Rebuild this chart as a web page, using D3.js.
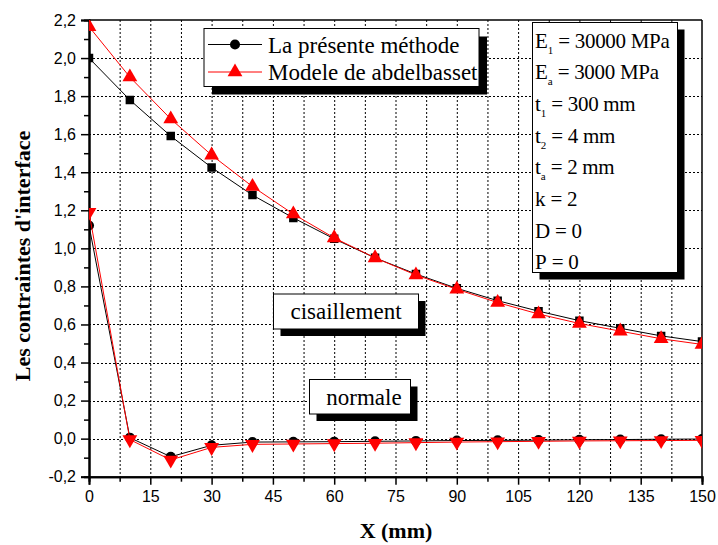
<!DOCTYPE html>
<html>
<head>
<meta charset="utf-8">
<script src="https://cdn.jsdelivr.net/npm/d3@7"></script>
<style>
  body { margin: 0; background: #fff; }
  svg { display: block; }
  .tick text { font-family: "Liberation Sans", Arial, sans-serif; font-size: 16px; fill: #000; }
  .serif { font-family: "Liberation Serif", "Times New Roman", serif; }
</style>
</head>
<body>
<div id="chart"></div>
<script>
// ---- data ----
const xs = [0, 10, 20, 30, 40, 50, 60, 70, 80, 90, 100, 110, 120, 130, 140, 150];
const shearPresent = [2.00, 1.78, 1.59, 1.425, 1.28, 1.16, 1.05, 0.95, 0.865, 0.79, 0.725, 0.67, 0.62, 0.58, 0.54, 0.51];
const shearAbdel   = [2.165, 1.90, 1.68, 1.49, 1.325, 1.18, 1.055, 0.95, 0.86, 0.785, 0.715, 0.655, 0.605, 0.565, 0.525, 0.495];
const normalPresent = [1.12, 0.005, -0.095, -0.035, -0.018, -0.017, -0.016, -0.014, -0.012, -0.010, -0.009, -0.008, -0.006, -0.005, -0.003, -0.002];
const normalAbdel   = [1.19, -0.005, -0.112, -0.046, -0.03, -0.028, -0.026, -0.024, -0.021, -0.018, -0.016, -0.014, -0.012, -0.011, -0.010, -0.009];
const xTicks = [0, 15, 30, 45, 60, 75, 90, 105, 120, 135, 150];
const yTicks = [-0.2, 0, 0.2, 0.4, 0.6, 0.8, 1.0, 1.2, 1.4, 1.6, 1.8, 2.0, 2.2];
const legendNames = ["La présente méthode", "Modele de abdelbasset"];
const params = [["E", "1", " = 30000 MPa"], ["E", "a", " = 3000 MPa"], ["t", "1", " = 300 mm"],
                ["t", "2", " = 4 mm"], ["t", "a", " = 2 mm"], ["k", "", " = 2"], ["D", "", " = 0"], ["P", "", " = 0"]];
const curveLabels = ["cisaillement", "normale"];

const W = 718, H = 545;
const svg = d3.select("#chart").append("svg").attr("width", W).attr("height", H);

const x = d3.scaleLinear().domain([0, 150]).range([89, 702]);
const y = d3.scaleLinear().domain([-0.2, 2.2]).range([476.7, 20]);
const [x0, x1] = x.range(), [y0, y1] = y.range();

svg.append("clipPath").attr("id", "plotclip")
  .append("rect").attr("x", x0).attr("y", y1).attr("width", x1 - x0).attr("height", y0 - y1);

// grid
const grid = svg.append("g").attr("stroke", "#000").attr("stroke-width", 1).attr("stroke-dasharray", "2,2");
grid.selectAll(".gv").data(d3.range(7.5, 150, 7.5)).join("line")
  .attr("x1", d => x(d) + 0.5).attr("x2", d => x(d) + 0.5).attr("y1", y1).attr("y2", y0);
grid.selectAll(".gh").data(yTicks.filter(d => d > -0.2 && d < 2.2)).join("line")
  .attr("y1", d => Math.round(y(d)) + 0.5).attr("y2", d => Math.round(y(d)) + 0.5).attr("x1", x0).attr("x2", x1);

// frame top/right
svg.append("line").attr("x1", x0).attr("x2", x1).attr("y1", y1).attr("y2", y1).attr("stroke", "#000").attr("stroke-width", 1.5);
svg.append("line").attr("x1", x1).attr("x2", x1).attr("y1", y1).attr("y2", y0).attr("stroke", "#000").attr("stroke-width", 1.5);

// axes
const comma = d => d3.format(".1f")(d).replace(".", ",").replace("−", "-");
svg.append("g").attr("transform", `translate(0,${y0})`)
  .call(d3.axisBottom(x).tickValues(xTicks).tickSize(8).tickPadding(6).tickFormat(d3.format("d")));
svg.append("g").attr("transform", `translate(0,${y0})`)
  .call(d3.axisBottom(x).tickValues(d3.range(7.5, 150, 15)).tickSize(5).tickFormat(""));
svg.append("g").attr("transform", `translate(${x0},0)`)
  .call(d3.axisLeft(y).tickValues(yTicks).tickSize(8).tickPadding(5).tickFormat(comma));
svg.append("g").attr("transform", `translate(${x0},0)`)
  .call(d3.axisLeft(y).tickValues(d3.range(-0.1, 2.2, 0.2)).tickSize(5).tickFormat(""));
svg.selectAll(".domain").attr("stroke-width", 2);
svg.selectAll(".tick line").attr("stroke-width", 1.5);

// series
const plot = svg.append("g").attr("clip-path", "url(#plotclip)");
const line = d3.line().x((d, i) => x(xs[i])).y(d => y(d));
const tri = d3.symbol().type(d3.symbolTriangle).size(95);

function series(vals, color, marker) {
  plot.append("path").datum(vals).attr("d", line).attr("fill", "none").attr("stroke", color).attr("stroke-width", 1);
  plot.selectAll(null).data(vals).join("path")
    .attr("transform", (d, i) => `translate(${x(xs[i])},${y(d)})` + (marker === "down" ? " rotate(180)" : ""))
    .attr("d", marker === "square" ? d3.symbol().type(d3.symbolSquare).size(72)()
              : marker === "circle" ? d3.symbol().type(d3.symbolCircle).size(80)()
              : tri())
    .attr("fill", color);
}
series(shearPresent, "#000", "square");
series(normalPresent, "#000", "circle");
series(shearAbdel, "#ff0000", "up");
series(normalAbdel, "#ff0000", "down");

// shadowed box helper
function shadowBox(bx, by, bw, bh, off) {
  svg.append("rect").attr("x", bx + off).attr("y", by + off).attr("width", bw).attr("height", bh).attr("fill", "#000");
  svg.append("rect").attr("x", bx).attr("y", by).attr("width", bw).attr("height", bh)
    .attr("fill", "#fff").attr("stroke", "#000").attr("stroke-width", 1);
}

// legend
shadowBox(204, 28.5, 275, 58, 8);
const lg = svg.append("g");
legendNames.forEach((name, i) => {
  const ly = 44.5 + i * 27.5;
  lg.append("line").attr("x1", 208).attr("x2", 262).attr("y1", ly).attr("y2", ly)
    .attr("stroke", i ? "#ff0000" : "#000").attr("stroke-width", 1);
  lg.append("path").attr("transform", `translate(235,${ly})`)
    .attr("d", i ? tri() : d3.symbol().type(d3.symbolCircle).size(80)())
    .attr("fill", i ? "#ff0000" : "#000");
  lg.append("text").attr("class", "serif").attr("x", 268).attr("y", ly + 8)
    .attr("font-size", 23).text(name);
});

// parameters box
shadowBox(532.5, 22.5, 145, 250, 7);
params.forEach((p, i) => {
  const t = svg.append("text").attr("class", "serif").attr("x", 535).attr("y", 47.5 + i * 31.7)
    .attr("font-size", 21).attr("textLength", null);
  t.append("tspan").text(p[0]);
  if (p[1]) t.append("tspan").attr("font-size", 11).attr("dy", 6).text(p[1]);
  t.append("tspan").attr("dy", p[1] ? -6 : 0).attr("letter-spacing", -0.3).text(p[2]);
});

// curve labels
shadowBox(273.5, 294, 145, 35, 7);
svg.append("text").attr("class", "serif").attr("x", 346).attr("y", 318.5).attr("text-anchor", "middle")
  .attr("font-size", 23).text(curveLabels[0]);
shadowBox(309.5, 379.5, 101, 34.5, 7);
svg.append("text").attr("class", "serif").attr("x", 364).attr("y", 405).attr("text-anchor", "middle")
  .attr("font-size", 23).text(curveLabels[1]);

// axis titles
svg.append("text").attr("class", "serif").attr("font-weight", "bold").attr("font-size", 22)
  .attr("text-anchor", "middle").attr("x", 396).attr("y", 538).text("X (mm)");
svg.append("text").attr("class", "serif").attr("font-weight", "bold").attr("font-size", 22)
  .attr("text-anchor", "middle").attr("transform", "translate(30,256) rotate(-90)")
  .text("Les contraintes d'interface");
</script>
</body>
</html>
